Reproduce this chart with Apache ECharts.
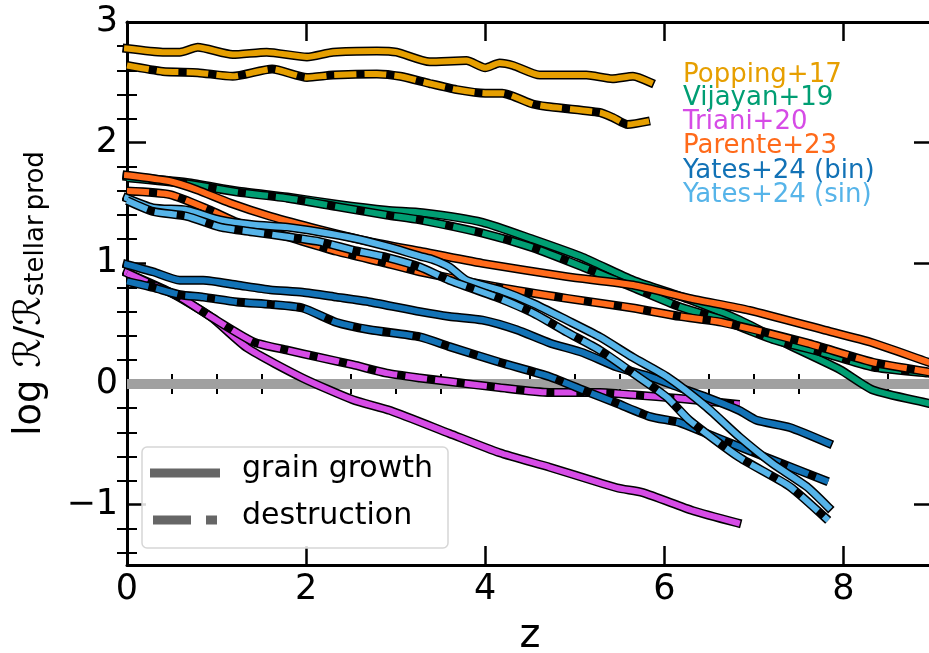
<!DOCTYPE html>
<html><head><meta charset="utf-8">
<script src="https://cdn.jsdelivr.net/npm/echarts@6/dist/echarts.min.js"></script>
<style>html,body{margin:0;padding:0;background:#fff}#c{width:929px;height:653px}</style>
</head><body><div id="c"></div>
<script>
// ---- data (z, log R/R_stellar prod) ----
const zeroLine = [[0,0],[9,0]];
const poppingGrowth = [[0,2.78],[0.40,2.75],[0.59,2.75],[0.79,2.79],[1.18,2.73],[1.56,2.75],[2.01,2.71],[2.30,2.75],[2.79,2.76],[3.01,2.75],[3.38,2.67],[3.79,2.68],[4.00,2.62],[4.16,2.66],[4.31,2.64],[4.61,2.56],[5.13,2.56],[5.42,2.53],[5.65,2.55],[5.84,2.50]];
const poppingDestruction = [[0,2.64],[0.40,2.59],[0.79,2.58],[1.18,2.55],[1.62,2.61],[2.01,2.54],[2.30,2.56],[2.79,2.57],[3.05,2.55],[3.38,2.49],[3.68,2.44],[4.00,2.41],[4.19,2.41],[4.53,2.32],[4.69,2.30],[5.28,2.25],[5.42,2.21],[5.59,2.15],[5.84,2.18]];
const vijayanGrowth = [[0,1.72],[0.67,1.67],[1.23,1.60],[1.79,1.55],[2.34,1.49],[2.90,1.44],[3.30,1.42],[3.97,1.34],[4.53,1.20],[5.09,1.05],[5.65,0.86],[6.28,0.70],[6.84,0.53],[7.40,0.32],[7.96,0.12],[8.33,-0.05],[8.95,-0.16],[9.0,-0.17]];
const vijayanDestruction = [[0,1.71],[0.67,1.66],[1.23,1.59],[1.79,1.54],[2.34,1.47],[2.90,1.40],[3.27,1.36],[3.97,1.25],[4.53,1.13],[5.09,0.97],[5.65,0.80],[6.17,0.64],[6.65,0.53],[7.21,0.37],[7.77,0.26],[8.33,0.14],[8.95,0.09],[9.0,0.085]];
const trianiGrowth = [[0,0.92],[0.48,0.76],[0.93,0.56],[1.34,0.30],[1.96,0.05],[2.52,-0.13],[2.94,-0.22],[3.60,-0.41],[4.16,-0.57],[4.72,-0.69],[5.47,-0.86],[5.76,-0.90],[6.32,-1.05],[6.81,-1.15]];
const trianiDestruction = [[0,0.92],[0.29,0.82],[0.59,0.72],[0.93,0.56],[1.41,0.35],[1.79,0.28],[2.15,0.22],[2.52,0.16],[2.90,0.09],[3.27,0.05],[3.60,0.02],[4.16,-0.03],[4.72,-0.07],[5.28,-0.07],[5.65,-0.09],[6.17,-0.12],[6.84,-0.17]];
const parenteGrowth = [[0,1.73],[0.48,1.68],[0.78,1.61],[1.15,1.50],[1.60,1.39],[2.15,1.28],[2.71,1.18],[3.27,1.10],[3.97,1.00],[4.91,0.89],[5.65,0.82],[6.28,0.71],[6.95,0.61],[7.77,0.45],[8.33,0.34],[8.95,0.18],[9.0,0.17]];
const parenteDestruction = [[0,1.60],[0.48,1.57],[0.93,1.44],[1.23,1.34],[1.79,1.22],[2.34,1.10],[2.90,1.00],[3.27,0.93],[4.16,0.80],[4.91,0.71],[5.65,0.63],[6.17,0.56],[6.65,0.51],[7.59,0.34],[8.33,0.18],[8.95,0.10],[9.0,0.09]];
const yatesBinGrowth = [[0,0.99],[0.29,0.93],[0.59,0.86],[0.85,0.86],[1.23,0.82],[1.60,0.78],[1.96,0.76],[2.34,0.72],[2.71,0.68],[3.27,0.60],[3.60,0.56],[3.97,0.53],[4.35,0.45],[4.72,0.34],[5.09,0.26],[5.47,0.14],[5.84,0.06],[6.17,-0.03],[6.47,-0.11],[6.84,-0.22],[7.03,-0.30],[7.40,-0.36],[7.83,-0.49]];
const yatesBinDestruction = [[0,0.85],[0.29,0.80],[0.59,0.74],[0.85,0.72],[1.23,0.68],[1.60,0.66],[1.96,0.63],[2.34,0.51],[2.71,0.45],[3.27,0.39],[3.60,0.31],[4.16,0.18],[4.72,0.06],[5.09,-0.05],[5.47,-0.16],[5.84,-0.27],[6.17,-0.32],[6.47,-0.41],[6.84,-0.52],[7.21,-0.63],[7.83,-0.81]];
const yatesSinGrowth = [[0,1.54],[0.29,1.46],[0.67,1.44],[1.04,1.36],[1.41,1.32],[1.79,1.30],[2.15,1.26],[2.52,1.21],[2.90,1.14],[3.27,1.06],[3.42,1.03],[3.60,0.97],[3.79,0.86],[4.16,0.78],[4.53,0.67],[4.91,0.53],[5.28,0.39],[5.65,0.22],[6.03,0.06],[6.47,-0.19],[6.84,-0.44],[7.21,-0.66],[7.59,-0.85],[7.83,-1.02]];
const yatesSinDestruction = [[0,1.52],[0.29,1.43],[0.67,1.39],[1.04,1.30],[1.41,1.26],[1.79,1.22],[2.15,1.18],[2.52,1.11],[2.90,1.05],[3.27,0.97],[3.60,0.86],[4.16,0.71],[4.53,0.59],[4.91,0.43],[5.28,0.28],[5.65,0.09],[6.03,-0.11],[6.28,-0.30],[6.84,-0.61],[7.40,-0.85],[7.83,-1.13]];

const models = ['Popping+17','Vijayan+19','Triani+20','Parente+23','Yates+24 (bin)','Yates+24 (sin)'];
const modelColors = ['#E69F00','#009E73','#D64BE6','#FF6A1A','#1272B6','#56B4E9'];
const modelCurves = [
  [poppingGrowth, poppingDestruction],
  [vijayanGrowth, vijayanDestruction],
  [trianiGrowth, trianiDestruction],
  [parenteGrowth, parenteDestruction],
  [yatesBinGrowth, yatesBinDestruction],
  [yatesSinGrowth, yatesSinDestruction]
];
const styleLabels = ['grain growth','destruction'];
const xMajor = [0,2,4,6,8];
const xMinor = [0.5,1,1.5,2.5,3,3.5,4.5,5,5.5,6.5,7,7.5,8.5];
const yMajor = [-1,0,1,2,3];
const yMinor = [-1.4,-1.2,-0.8,-0.6,-0.4,-0.2,0.2,0.4,0.6,0.8,1.2,1.4,1.6,1.8,2.2,2.4,2.6,2.8];

const FONT = 'DejaVu Sans';
const chart = echarts.init(document.getElementById('c'), null, {renderer:'canvas'});

const series = [{
  type:'line', data: zeroLine, symbol:'none', silent:true,
  lineStyle:{color:'#a0a0a0', width:10, cap:'butt'}, z:1
}];
modelCurves.forEach((pair, i) => {
  pair.forEach((data, k) => {
    const common = {type:'line', data, symbol:'none', silent:true, z:2, smooth:0.2};
    series.push(Object.assign({}, common, {
      lineStyle:{color:'#000', width:9, cap: k===0 ? 'square':'butt', join:'round'}
    }));
    series.push(Object.assign({}, common, {
      lineStyle:{color:modelColors[i], width:6, cap: k===0 ? 'square':'butt', join:'round',
        type: k===0 ? 'solid' : [22,8]}
    }));
  });
});

function axisCommon(extra) {
  return Object.assign({
    type:'value', splitLine:{show:false},
    axisLine:{show:false}, axisLabel:{show:false}
  }, extra);
}
const tickMajor = vals => ({show:true, inside:true, length:19, lineStyle:{color:'#000', width:2.5}, customValues:vals});
const tickMinor = vals => ({show:true, inside:true, length:10, lineStyle:{color:'#000', width:2}, customValues:vals});

const xAxis = [
  axisCommon({min:0, max:9, position:'bottom',
    axisLine:{show:true, onZero:false, lineStyle:{color:'#000', width:3}},
    axisTick: tickMajor(xMajor),
    axisLabel:{show:true, customValues:xMajor, fontSize:35, color:'#000', fontFamily:FONT, margin:7},
    name:'z', nameLocation:'middle', nameGap:52,
    nameTextStyle:{fontSize:40, color:'#000', fontFamily:FONT}}),
  axisCommon({min:0, max:9, position:'bottom', axisTick: tickMinor(xMinor)}),
  axisCommon({min:0, max:9, position:'top',
    axisLine:{show:true, onZero:false, lineStyle:{color:'#000', width:3}}, axisTick: tickMajor(xMajor)}),
  axisCommon({min:0, max:9, position:'top', axisTick: tickMinor(xMinor)})
];
const yAxis = [
  axisCommon({min:-1.5, max:3, position:'left',
    axisLine:{show:true, onZero:false, lineStyle:{color:'#000', width:3}},
    axisTick: tickMajor(yMajor),
    axisLabel:{show:true, customValues:yMajor, fontSize:35, color:'#000', fontFamily:FONT, margin:9,
      formatter: v => (v < 0 ? '\u2212' + Math.abs(v) : String(v))},
    name:'{a|log }{r|\u211B}{a|/}{r|\u211B}{s|stellar\u2009prod}', nameLocation:'middle', nameRotate:90, nameGap:78,
    nameTextStyle:{color:'#000', fontFamily:FONT,
      rich:{
        a:{fontSize:37, fontFamily:FONT, color:'#000', lineHeight:44, verticalAlign:'bottom'},
        r:{fontSize:37, fontFamily:FONT, color:'#000', lineHeight:44, verticalAlign:'bottom'},
        s:{fontSize:26, fontFamily:FONT, color:'#000', lineHeight:24, verticalAlign:'bottom'}
      }}}),
  axisCommon({min:-1.5, max:3, position:'left', axisTick: tickMinor(yMinor)}),
  axisCommon({min:-1.5, max:3, position:'right',
    axisLine:{show:true, onZero:false, lineStyle:{color:'#000', width:3}}, axisTick: tickMajor(yMajor)}),
  axisCommon({min:-1.5, max:3, position:'right', axisTick: tickMinor(yMinor)})
];

const graphic = [];
// colored model labels (top right)
const labelBaselines = [84,107,131,155,180,204];
models.forEach((m, i) => {
  graphic.push({type:'text', left:683, top:labelBaselines[i]-22, z:100,
    style:{text:m, fill:modelColors[i], font:'26px "DejaVu Sans"'}});
});
// line-style legend box
graphic.push({type:'rect', shape:{x:142, y:447, width:306, height:101, r:5}, z:100,
  style:{fill:'rgba(255,255,255,0.85)', stroke:'#d6d6d6', lineWidth:1.5}});
graphic.push({type:'line', shape:{x1:150, y1:473, x2:220, y2:473}, z:101,
  style:{stroke:'#666', lineWidth:9}});
graphic.push({type:'line', shape:{x1:153, y1:520, x2:217, y2:520}, z:101,
  style:{stroke:'#666', lineWidth:9, lineDash:[38,15]}});
graphic.push({type:'text', left:242, top:454, z:101,
  style:{text:styleLabels[0], fill:'#000', font:'30px "DejaVu Sans"'}});
graphic.push({type:'text', left:242, top:501, z:101,
  style:{text:styleLabels[1], fill:'#000', font:'30px "DejaVu Sans"'}});

chart.setOption({
  animation:false,
  backgroundColor:'#fff',
  grid:{left:127, top:22, width:806, height:543, containLabel:false, outerBoundsMode:'none'},
  xAxis, yAxis, series, graphic
});
</script></body></html>
